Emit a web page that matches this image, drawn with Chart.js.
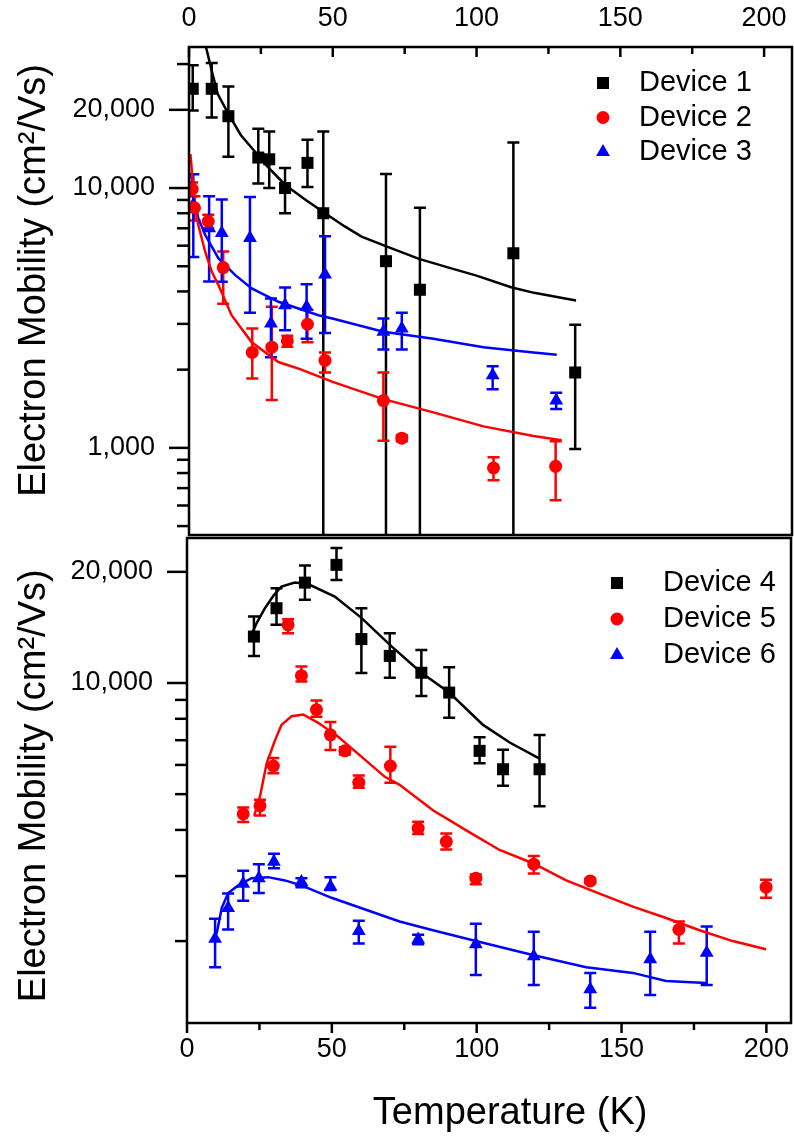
<!DOCTYPE html>
<html>
<head>
<meta charset="utf-8">
<script src="https://cdn.jsdelivr.net/npm/chart.js@4.4.0/dist/chart.umd.min.js"></script>
<style>
  html, body { margin: 0; padding: 0; background: #fff; width: 794px; height: 1139px; overflow: hidden; }
  .panel { position: absolute; left: 0; width: 794px; }
</style>
</head>
<body>
<div class="panel" style="top:0;height:540px"><canvas id="upper"></canvas></div>
<div class="panel" style="top:535px;height:604px"><canvas id="lower"></canvas></div>
<script>
const FONT = "'Liberation Sans', Arial, sans-serif";

// temperature ticks (K)
const xTicks = [0, 25, 50, 75, 100, 125, 150, 175, 200];
const xLabels = [0, 50, 100, 150, 200];

// mobility ticks (cm2/Vs)
const yTicksTop = [500, 600, 700, 800, 900, 1000, 2000, 3000, 4000, 5000, 6000, 7000, 8000, 9000, 10000, 20000, 30000];
const yLabelsTop = [1000, 10000, 20000];
const yTicksBot = [2000, 3000, 4000, 5000, 6000, 7000, 8000, 9000, 10000, 20000];
const yLabelsBot = [10000, 20000];

// ---- upper panel ----
const tempD1 = [1.3, 7.9, 13.7, 24.1, 27.9, 33.4, 41.2, 46.7, 68.5, 80.3, 112.8, 134.3];
const muD1   = [24100, 24100, 18900, 13100, 12900, 10000, 12500, 8000, 5230, 4060, 5610, 1950];
const hiD1   = [29700, 30300, 24600, 16900, 16500, 11950, 15350, 16500, 11330, 8390, 14980, 2980];
const loD1   = [19900, 18700, 13200, 10400, 10000, 8000, 10100, 100, 100, 100, 100, 990];

const tempD2 = [1.1, 1.9, 6.7, 11.9, 22.0, 28.8, 34.2, 41.2, 47.3, 67.6, 74.0, 105.9, 127.5];
const muD2   = [9900, 8390, 7450, 4940, 2330, 2440, 2580, 2990, 2170, 1520, 1090, 837, 849];
const hiD2   = [10500, 9300, 7900, 5700, 2880, 3490, 2700, 3400, 2330, 1950, 1120, 920, 1060];
const loD2   = [9300, 7500, 7000, 3590, 1850, 1530, 2450, 2550, 1950, 1065, 1060, 751, 628];

const tempD3 = [1.5, 7.0, 11.4, 21.2, 28.5, 33.4, 40.9, 47.3, 67.6, 74.0, 105.6, 127.7];
const muD3   = [8600, 7000, 6710, 6420, 3010, 3540, 3490, 4650, 2800, 2880, 1905, 1520];
const hiD3   = [11300, 9300, 9040, 9230, 3760, 4140, 4260, 6520, 3150, 3310, 2060, 1630];
const loD3   = [5430, 4370, 4360, 3310, 2230, 2835, 2630, 2770, 2390, 2390, 1680, 1410];

const fitT1  = [5.9, 8, 10, 13.7, 18, 22, 27, 33.4, 40, 47.3, 54.3, 60, 70, 80, 90, 100, 112, 120, 134.6];
const fitMu1 = [34900, 28000, 23000, 19300, 16000, 14200, 12200, 10300, 9100, 8000, 7100, 6500, 5880, 5340, 4950, 4600, 4150, 3950, 3690];
const fitT2  = [0.5, 1.5, 2.5, 3.2, 5.6, 7.9, 10.2, 14.8, 21.8, 31.1, 38.6, 50.2, 67.6, 85, 102.4, 119.8, 129.6];
const fitMu2 = [13500, 10000, 8000, 7230, 5700, 4770, 4240, 3240, 2550, 2140, 2010, 1790, 1540, 1370, 1210, 1110, 1070];
const fitT3  = [0.7, 1.5, 3.2, 5.6, 10.2, 16, 21.8, 31.1, 45, 50.2, 67.6, 85, 102.4, 119.8, 127.9];
const fitMu3 = [11470, 9500, 7670, 6610, 5370, 4630, 4110, 3650, 3240, 3140, 2800, 2630, 2440, 2330, 2280];

// ---- lower panel ----
const tempD4 = [23.1, 30.9, 40.7, 51.6, 60.2, 70, 80.9, 90.5, 101, 109.1, 121.7];
const muD4   = [13360, 15940, 18700, 20890, 13150, 11840, 10660, 9420, 6550, 5840, 5840];
const hiD4   = [15140, 18050, 20800, 23200, 15940, 13640, 12290, 11030, 7130, 6590, 7230];
const loD4   = [11840, 14370, 16810, 19000, 10640, 10330, 9220, 8050, 6060, 5270, 4640];

const tempD5 = [19.4, 25.2, 29.8, 34.9, 39.5, 44.7, 49.5, 54.5, 59.3, 70.2, 79.8, 89.5, 99.7, 119.7, 139.2, 169.8, 199.9];
const muD5   = [4420, 4650, 5960, 14370, 10470, 8470, 7240, 6550, 5380, 5960, 4040, 3720, 2960, 3230, 2910, 2150, 2800];
const hiD5   = [4600, 4830, 6260, 14890, 11080, 8960, 7840, 6700, 5620, 6720, 4210, 3910, 3030, 3400, 2950, 2260, 2930];
const loD5   = [4200, 4380, 5700, 13640, 10100, 8100, 6580, 6400, 5200, 5370, 3900, 3540, 2850, 3050, 2870, 1970, 2620];

const tempD6 = [9.7, 14.2, 19.4, 24.8, 30, 39.5, 49.5, 59.3, 79.8, 99.7, 119.7, 139.2, 159.9, 179.4];
const muD6   = [2030, 2460, 2860, 2960, 3280, 2890, 2810, 2130, 2020, 1960, 1820, 1480, 1785, 1860];
const hiD6   = [2300, 2690, 3100, 3230, 3450, 2960, 2980, 2270, 2080, 2230, 2120, 1640, 2120, 2190];
const loD6   = [1700, 2150, 2570, 2700, 3150, 2800, 2750, 1970, 1960, 1620, 1520, 1320, 1430, 1520];

const fitT4  = [21.7, 24, 26.9, 30, 32.6, 37.2, 41.8, 51, 60.2, 70.6, 80.9, 90.5, 102.2, 111.4, 121.7];
const fitMu4 = [13260, 14500, 15940, 17300, 18250, 18700, 18540, 17140, 15010, 12560, 10660, 9420, 7700, 6900, 6240];
const fitT5  = [23.2, 25.2, 27.5, 30.3, 32.6, 36.1, 40.1, 45.3, 52.2, 60.2, 68.3, 73.4, 84.9, 96.4, 107.9, 119.4, 130.9, 142.4, 153.9, 165.4, 176.9, 188.4, 199.9];
const fitMu5 = [4370, 4930, 6060, 6970, 7700, 8130, 8220, 7800, 7150, 6320, 5570, 5300, 4520, 3990, 3530, 3250, 2920, 2690, 2480, 2310, 2140, 2000, 1900];
const fitT6  = [10.2, 12, 14.2, 17.7, 22.3, 28, 33.8, 39.5, 49.9, 62.5, 73.4, 84.9, 99.7, 119.7, 137.8, 153.9, 165.4, 179.2];
const fitMu6 = [2090, 2460, 2700, 2830, 2960, 2980, 2920, 2830, 2620, 2420, 2260, 2140, 2000, 1830, 1700, 1640, 1560, 1540];

const BLACK = '#000000', RED = '#ff0000', BLUE = '#0000ff';

function pts(t, m) { return t.map((v, i) => ({x: v, y: m[i]})); }

function device(label, color, style, r, t, m, lo, hi) {
  return {label, data: pts(t, m), lo, hi, pointStyle: style, pointRadius: r, pointHoverRadius: r,
    backgroundColor: color, borderColor: color, pointBorderWidth: 0, showLine: false};
}
function fit(color, t, m) {
  return {data: pts(t, m), borderColor: color, borderWidth: 2.5, pointRadius: 0,
    showLine: true, tension: 0, fill: false};
}

function marker(ctx, style, r, x, y) {
  ctx.beginPath();
  if (style === 'rect') {
    const h = r * Math.SQRT1_2;
    ctx.rect(x - h, y - h, 2 * h, 2 * h);
  } else if (style === 'triangle') {
    for (let k = 0; k < 3; k++) {
      const a = k * 2 * Math.PI / 3;
      ctx.lineTo(x + Math.sin(a) * r, y - Math.cos(a) * r);
    }
    ctx.closePath();
  } else {
    ctx.arc(x, y, r, 0, 2 * Math.PI);
  }
  ctx.fill();
}

// vertical error bars with caps
const errorBars = {
  id: 'errorBars',
  beforeDatasetsDraw(chart) {
    const {ctx, chartArea: a, scales: {x, y}} = chart;
    ctx.save();
    ctx.beginPath();
    ctx.rect(a.left, a.top, a.right - a.left, a.bottom - a.top);
    ctx.clip();
    ctx.lineWidth = 2.5;
    chart.data.datasets.forEach(ds => {
      if (!ds.lo) return;
      ctx.strokeStyle = ds.borderColor;
      ds.data.forEach((p, i) => {
        const px = x.getPixelForValue(p.x);
        const y1 = y.getPixelForValue(ds.hi[i]);
        const y2 = y.getPixelForValue(ds.lo[i]);
        ctx.beginPath();
        ctx.moveTo(px, y1); ctx.lineTo(px, y2);
        ctx.moveTo(px - 6, y1); ctx.lineTo(px + 6, y1);
        ctx.moveTo(px - 6, y2); ctx.lineTo(px + 6, y2);
        ctx.stroke();
      });
    });
    ctx.restore();
  }
};

// box around the plot and the tick marks
const frame = {
  id: 'frame',
  afterDraw(chart, args, o) {
    const {ctx, chartArea: a, scales: {x, y}} = chart;
    ctx.save();
    ctx.strokeStyle = '#000';
    ctx.lineWidth = 2.5;
    ctx.strokeRect(a.left, a.top, a.right - a.left, a.bottom - a.top);
    o.yTicks.forEach(v => {
      const py = y.getPixelForValue(v);
      const len = o.yMajor.includes(v) ? 20 : 12;
      ctx.beginPath(); ctx.moveTo(a.left - len, py); ctx.lineTo(a.left, py); ctx.stroke();
    });
    const top = x.position === 'top';
    o.xTicks.forEach(v => {
      const px = x.getPixelForValue(v);
      const len = o.xMajor.includes(v) ? 10 : 7;
      ctx.beginPath();
      if (top) { ctx.moveTo(px, a.top); ctx.lineTo(px, a.top + len); }
      else { ctx.moveTo(px, a.bottom); ctx.lineTo(px, a.bottom + len); }
      ctx.stroke();
    });
    ctx.restore();
  }
};

const deviceLegend = {
  id: 'deviceLegend',
  afterDraw(chart, args, o) {
    const ctx = chart.ctx;
    ctx.save();
    ctx.font = '29px ' + FONT;
    ctx.textBaseline = 'middle';
    chart.data.datasets.filter(d => d.lo).forEach((d, i) => {
      const yy = o.y + i * o.dy;
      ctx.fillStyle = d.backgroundColor;
      marker(ctx, d.pointStyle, d.pointRadius, o.mx, yy);
      ctx.fillStyle = '#000';
      ctx.fillText(d.label, o.tx, yy);
    });
    ctx.restore();
  }
};

function panel(id, datasets, cfg) {
  return new Chart(document.getElementById(id), {
    type: 'scatter',
    data: {datasets},
    options: {
      responsive: true,
      maintainAspectRatio: false,
      animation: false,
      layout: {padding: cfg.pad, autoPadding: false},
      plugins: {
        legend: {display: false},
        tooltip: {enabled: false},
        frame: {yTicks: cfg.yTicks, yMajor: cfg.yLabels, xTicks, xMajor: xLabels},
        deviceLegend: cfg.legend
      },
      scales: {
        x: {
          type: 'linear', position: cfg.xPos, min: 0, max: cfg.xMax,
          afterBuildTicks: s => { s.ticks = xTicks.map(v => ({value: v})); },
          afterFit: s => { s.height = cfg.xH; s.paddingLeft = 0; s.paddingRight = 0; },
          grid: {display: false, drawTicks: false},
          border: {display: false},
          ticks: {autoSkip: false, maxRotation: 0, padding: cfg.xPad, color: '#000',
            font: {family: FONT, size: 27},
            callback: v => xLabels.includes(v) ? String(v) : ''},
          title: cfg.xTitle
        },
        y: {
          type: 'logarithmic', min: cfg.yMin, max: cfg.yMax,
          afterBuildTicks: s => { s.ticks = cfg.yTicks.map(v => ({value: v})); },
          afterFit: s => { s.width = cfg.yW; s.paddingTop = 0; s.paddingBottom = 0; },
          grid: {display: false, drawTicks: false},
          border: {display: false},
          ticks: {autoSkip: false, padding: 34, color: '#000',
            font: {family: FONT, size: 27},
            callback: v => cfg.yLabels.includes(v) ? v.toLocaleString('en-US') : ''},
          title: {display: true, text: cfg.yText, color: '#000',
            font: {family: FONT, size: 38}, padding: {top: 12, bottom: 0}}
        }
      }
    },
    plugins: [errorBars, frame, deviceLegend]
  });
}

panel('upper', [
  device('Device 1', BLACK, 'rect', 8.5, tempD1, muD1, loD1, hiD1),
  device('Device 2', RED, 'circle', 6.5, tempD2, muD2, loD2, hiD2),
  device('Device 3', BLUE, 'triangle', 8, tempD3, muD3, loD3, hiD3),
  fit(BLACK, fitT1, fitMu1),
  fit(RED, fitT2, fitMu2),
  fit(BLUE, fitT3, fitMu3)
], {
  pad: {top: 0, right: 2, bottom: 5, left: 0},
  xPos: 'top', xH: 47, xPad: 12, xMax: 209.7, xTitle: {display: false},
  yW: 189, yMin: 462, yMax: 34900, yTicks: yTicksTop, yLabels: yLabelsTop,
  yText: '  Electron Mobility (cm\u00b2/Vs)',
  legend: {mx: 603, tx: 639, y: 83, dy: 34.5}
});

panel('lower', [
  device('Device 4', BLACK, 'rect', 8.5, tempD4, muD4, loD4, hiD4),
  device('Device 5', RED, 'circle', 6.5, tempD5, muD5, loD5, hiD5),
  device('Device 6', BLUE, 'triangle', 8, tempD6, muD6, loD6, hiD6),
  fit(BLACK, fitT4, fitMu4),
  fit(RED, fitT5, fitMu5),
  fit(BLUE, fitT6, fitMu6)
], {
  pad: {top: 3, right: 3, bottom: 0, left: 0},
  xPos: 'bottom', xH: 116, xPad: 10, xMax: 208.5,
  xTitle: {display: true, text: '    Temperature (K)', color: '#000',
    font: {family: FONT, size: 38}, padding: {top: 0, bottom: 3}},
  yW: 187, yMin: 1200, yMax: 24700, yTicks: yTicksBot, yLabels: yLabelsBot,
  yText: 'Electron Mobility (cm\u00b2/Vs) ',
  legend: {mx: 617, tx: 663, y: 48, dy: 36}
});
</script>
</body>
</html>
